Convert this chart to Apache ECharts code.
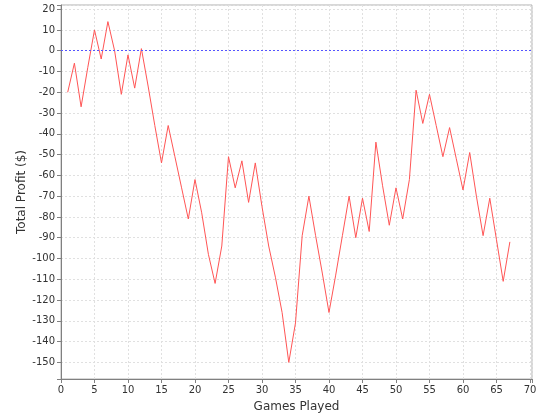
<!DOCTYPE html>
<html>
<head>
<meta charset="utf-8">
<script src="https://cdn.jsdelivr.net/npm/echarts@6/dist/echarts.min.js"></script>
<style>html,body{margin:0;padding:0;background:#fff}#c{width:540px;height:420px}</style>
</head>
<body>
<div id="c"></div>
<script>
const games = [];
for (let i = 1; i <= 67; i++) games.push(i);
const profit = [
  -20, -6, -27, -8, 10, -4, 14, 0, -21, -2,
  -18, 1, -17, -36, -54, -36, -51, -66, -81, -62,
  -78, -98, -112, -94, -51, -66, -53, -73, -54, -75,
  -94, -109, -126, -150, -131, -89, -70, -89, -107, -126,
  -108, -89, -70, -90, -71, -87, -44, -65, -84, -66,
  -81, -62, -19, -35, -21, -36, -51, -37, -52, -67,
  -49, -70, -89, -71, -91, -111, -92
];
const xTitle = 'Games Played';
const yTitle = 'Total Profit ($)';

const chart = echarts.init(document.getElementById('c'), null, {renderer: 'canvas'});
const data = games.map((g, i) => [g, profit[i]]);
const labelFont = {fontFamily: 'DejaVu Sans', fontSize: 10, color: '#333'};
chart.setOption({
  animation: false,
  backgroundColor: '#fff',
  grid: {left: 61, right: 8, top: 5, bottom: 41, show: true, borderColor: '#b0b0b0', borderWidth: 1, backgroundColor: '#fff'},
  xAxis: {
    type: 'value', min: 0, max: 70.3, interval: 5,
    name: xTitle, nameLocation: 'middle', nameGap: 22, nameMoveOverlap: false,
    nameTextStyle: {fontFamily: 'DejaVu Sans', fontSize: 12, color: '#333'},
    axisLine: {show: true, onZero: false, lineStyle: {color: '#808080'}},
    axisTick: {show: true, length: 4, lineStyle: {color: '#808080'}},
    axisLabel: Object.assign({margin: 6, formatter: v => (v % 5 === 0 ? String(v) : '')}, labelFont),
    splitLine: {show: true, lineStyle: {color: '#e0e0e0', type: [2, 2]}}
  },
  yAxis: {
    type: 'value', min: -158, max: 22, minInterval: 10, maxInterval: 10, splitNumber: 18,
    name: yTitle, nameLocation: 'middle', nameGap: 33, nameMoveOverlap: false,
    nameTextStyle: {fontFamily: 'DejaVu Sans', fontSize: 12, color: '#333'},
    axisLine: {show: true, onZero: false, lineStyle: {color: '#808080'}},
    axisTick: {show: true, length: 4, lineStyle: {color: '#808080'}},
    axisLabel: Object.assign({margin: 6, formatter: v => (v % 10 === 0 ? String(v) : '')}, labelFont),
    splitLine: {show: true, lineStyle: {color: '#e0e0e0', type: [2, 2]}}
  },
  series: [{
    type: 'line', data: data, showSymbol: false, symbol: 'none',
    lineStyle: {color: '#ff5555', width: 1},
    markLine: {
      silent: true, symbol: 'none', label: {show: false},
      lineStyle: {color: '#5555ff', width: 1, type: [2, 2]},
      data: [{yAxis: 0}]
    }
  }]
});
</script>
</body>
</html>
